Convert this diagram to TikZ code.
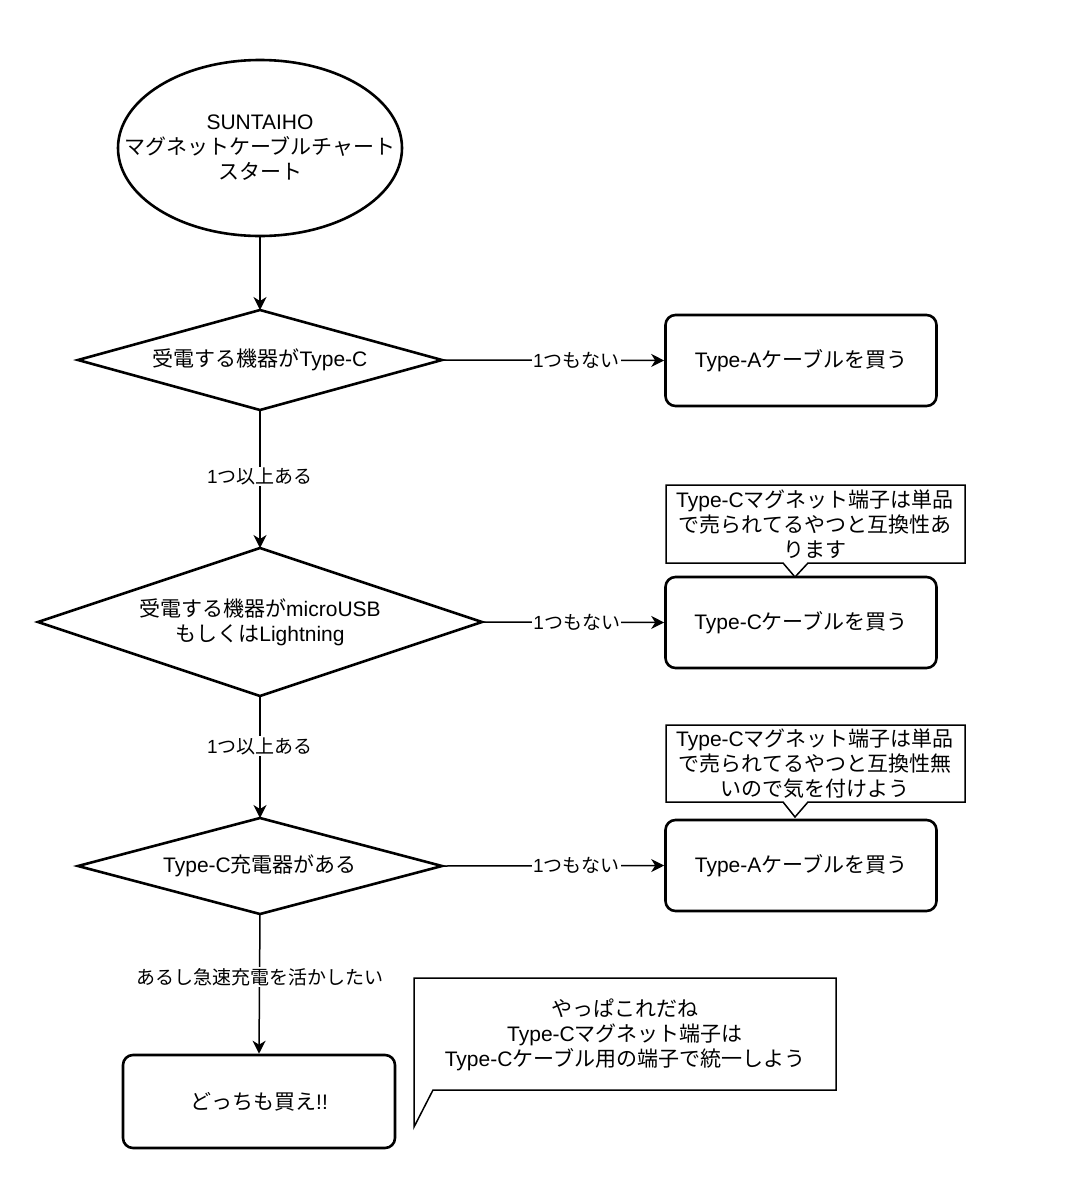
\documentclass[tikz,border=0pt]{standalone}
\usepackage{fontspec}
\setmainfont{Noto Sans CJK JP}
\newfontfamily\lat{Liberation Sans}
\usetikzlibrary{arrows.meta}
\begin{document}
\begin{tikzpicture}[x=1pt,y=-1pt,
  every node/.style={font=\fontsize{21}{25}\selectfont, align=center},
  thickbox/.style={draw, line width=2.6pt},
  rbox/.style={thickbox, rounded corners=10pt, minimum width=271pt, minimum height=91pt, inner sep=0pt},
  decline/.style={line width=2.6pt, line join=miter},
  conn/.style={line width=1.5pt, -{Stealth[length=13pt,width=13pt,inset=4pt]}},
  lbl/.style={fill=white, font=\fontsize{19}{23}\selectfont, inner sep=1pt},
  callout/.style={draw, line width=1.5pt, fill=white},
  ctext/.style={inner sep=0pt}
]
\useasboundingbox (0,0) rectangle (1068,1200);

% start
\draw[line width=2.6pt] (260,148) ellipse [x radius=142, y radius=88];
\node[inner sep=0pt] (start) at (260,148) {{\lat SUNTAIHO}\\マグネットケーブルチャート\\スタート};
\coordinate (starts) at (260,236);

% decisions
\coordinate (d1n) at (260,310); \coordinate (d1s) at (260,410);
\coordinate (d1w) at (78,360);  \coordinate (d1e) at (442,360);
\draw[decline] (d1n) -- (d1e) -- (d1s) -- (d1w) -- cycle;
\node (d1) at (260,360) {受電する機器が{\lat Type-C}};

\coordinate (d2n) at (260,548); \coordinate (d2s) at (260,696);
\coordinate (d2w) at (38,622);  \coordinate (d2e) at (482,622);
\draw[decline] (d2n) -- (d2e) -- (d2s) -- (d2w) -- cycle;
\node (d2) at (260,622) {受電する機器が{\lat microUSB}\\もしくは{\lat Lightning}};

\coordinate (d3n) at (260,818); \coordinate (d3s) at (260,914);
\coordinate (d3w) at (78,866);  \coordinate (d3e) at (442,866);
\draw[decline] (d3n) -- (d3e) -- (d3s) -- (d3w) -- cycle;
\node (d3) at (260,866) {{\lat Type-C}充電器がある};

% results
\node[rbox] (b1) at (801,360.5) {{\lat Type-A}ケーブルを買う};
\node[rbox] (b2) at (801,622.5) {{\lat Type-C}ケーブルを買う};
\node[rbox] (b3) at (801,865.5) {{\lat Type-A}ケーブルを買う};
\node[rbox, minimum width=272pt, minimum height=93pt] (b4) at (259,1101.5) {どっちも買え{\lat !!}};

% callouts
\draw[callout] (666,485) -- (965,485) -- (965,563) -- (808,563) -- (795,577) -- (783,563) -- (666,563) -- cycle;
\node[ctext] (c1) at (815,524) {{\lat Type-C}マグネット端子は単品\\で売られてるやつと互換性あ\\ります};
\draw[callout] (666,725) -- (965,725) -- (965,802) -- (808,802) -- (795,817) -- (783,802) -- (666,802) -- cycle;
\node[ctext] (c2) at (815,763.5) {{\lat Type-C}マグネット端子は単品\\で売られてるやつと互換性無\\いので気を付けよう};
\draw[callout] (414,978) -- (836,978) -- (836,1090) -- (433,1090) -- (414,1127) -- cycle;
\node[ctext] (c3) at (625,1035) {やっぱこれだね\\{\lat Type-C}マグネット端子は\\{\lat Type-C}ケーブル用の端子で統一しよう};

% connectors
\draw[conn] (starts) -- (d1n);
\draw[conn] (d1e) -- node[lbl, pos=0.605] {{\lat 1}つもない} (b1.west);
\draw[conn] (d1s) -- node[lbl, pos=0.48] {{\lat 1}つ以上ある} (d2n);
\draw[conn] (d2e) -- node[lbl, pos=0.52] {{\lat 1}つもない} (b2.west);
\draw[conn] (d2s) -- node[lbl, pos=0.41] {{\lat 1}つ以上ある} (d3n);
\draw[conn] (d3e) -- node[lbl, pos=0.605] {{\lat 1}つもない} (b3.west);
\draw[conn] (d3s) -- node[lbl, pos=0.45] {あるし急速充電を活かしたい} (b4.north);
\end{tikzpicture}
\end{document}
